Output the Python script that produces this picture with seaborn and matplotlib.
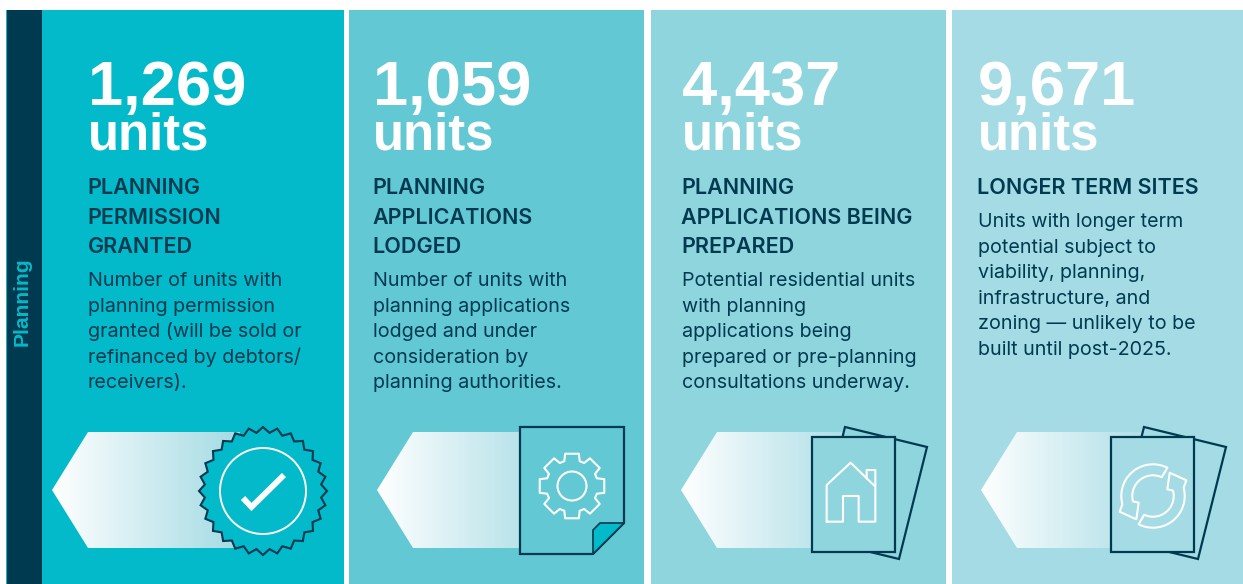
import numpy as np
import matplotlib
matplotlib.use('Agg')
import matplotlib.pyplot as plt
from matplotlib.patches import Polygon, Rectangle, Circle
import seaborn as sns

units = [1269, 1059, 4437, 9671]
headings = [
    ['PLANNING', 'PERMISSION', 'GRANTED'],
    ['PLANNING', 'APPLICATIONS', 'LODGED'],
    ['PLANNING', 'APPLICATIONS BEING', 'PREPARED'],
    ['LONGER TERM SITES'],
]
bodies = [
    ['Number of units with', 'planning permission', 'granted (will be sold or',
     'refinanced by debtors/', 'receivers).'],
    ['Number of units with', 'planning applications', 'lodged and under',
     'consideration by', 'planning authorities.'],
    ['Potential residential units', 'with planning', 'applications being',
     'prepared or pre-planning', 'consultations underway.'],
    ['Units with longer term', 'potential subject to', 'viability, planning,',
     'infrastructure, and', 'zoning \u2014 unlikely to be', 'built until post-2025.'],
]
side_label = 'Planning'

panel_left = [7, 349, 651, 952]
panel_right = [344, 644, 946, 1243]
text_left = [88, 373, 682, 978]
arrow_tip = [52, 377, 681, 981]
arrow_end = [240, 520, 846, 1145]

palette = sns.color_palette(['#02bac9', '#61c8d4', '#8fd5de', '#a4dbe4'])
DARK = '#003a50'
ARROW = '#9dd8e2'
HEAVY = 'Liberation Sans'
LIGHT = 'Inter'

sns.set_theme(style='white')
fig = plt.figure(figsize=(12.43, 5.84), dpi=100)
ax = fig.add_axes([0, 0, 1, 1])
ax.axis('off')


def closed(pts, fc, ec=DARK, lw=1.6, z=5):
    ax.add_patch(Polygon(pts, closed=True, fc=fc, ec=ec, lw=lw, zorder=z, joinstyle='miter'))


def outline(pts, lw=1.5):
    ax.add_patch(Polygon(pts, closed=True, fc='none', ec='white', lw=lw, zorder=7, joinstyle='round'))


def badge(cx, cy, fc):
    ang = np.linspace(0, 2 * np.pi, 57)[:-1] + np.pi / 2
    rad = np.where(np.arange(56) % 2 == 0, 64, 58.5)
    closed(np.c_[cx + rad * np.cos(ang), cy + rad * np.sin(ang)], fc, lw=1.5)
    ax.add_patch(Circle((cx, cy), 43, fc='none', ec='white', lw=1.4, zorder=6))
    ax.plot([cx - 20, cx - 11.5, cx + 21], [cy + 7, cy + 16, cy - 16], color='white',
            lw=4.2, solid_joinstyle='miter', solid_capstyle='butt', zorder=6)


def gear(cx, cy):
    pts = []
    for i in range(8):
        a = np.pi / 4 * i
        for da, r in [(-0.30, 26), (-0.21, 33), (0.21, 33), (0.30, 26)]:
            pts.append((cx + r * np.cos(a + da), cy + r * np.sin(a + da)))
    outline(pts)
    ax.add_patch(Circle((cx, cy), 14.5, fc='none', ec='white', lw=1.5, zorder=7))


def house(x, y):
    xs = [500, 500, 572, 620, 620, 646, 646, 596, 596, 549, 549, 500]
    ys = [365, 255, 188, 235, 210, 210, 365, 365, 288, 288, 365, 365]
    ax.plot(x + np.array(xs) / 3, y + np.array(ys) / 3, color='white', lw=1.5, zorder=7)
    ax.plot([x + 620 / 3, x + 643 / 3], [y + 235 / 3, y + 257 / 3], color='white', lw=1.5, zorder=7)


def cycle(cx, cy):
    for sign in [1, -1]:
        a1 = np.radians(np.linspace(63, 195, 40))
        a2 = np.radians(np.linspace(195, 65, 40))
        dx = np.r_[31.7 * np.cos(a1), -33.3, -16.7, -14.3, 20.7 * np.cos(a2)]
        dy = np.r_[-31.7 * np.sin(a1), 15.7, 23.3, 6.7, -20.7 * np.sin(a2)]
        outline(np.c_[cx + sign * dx, cy + sign * dy])


# panels
for i, col in enumerate(palette):
    ax.add_patch(Rectangle((panel_left[i], 10), panel_right[i] - panel_left[i], 574, fc=col,
                           ec='none', zorder=1))
ax.add_patch(Rectangle((6, 10), 36, 574, fc=palette[0], ec='none', zorder=2))
ax.add_patch(Rectangle((7, 10), 35, 574, fc=DARK, ec='none', zorder=2))
ax.text(22.5, 302, side_label, rotation=90, color=palette[0], fontsize=15.2, fontweight='bold',
        family=HEAVY, ha='center', va='center', zorder=3)

# gradient arrows
cmap = sns.blend_palette(['white', ARROW], as_cmap=True)
for i, col in enumerate(palette):
    tip, end = arrow_tip[i], arrow_end[i]
    im = ax.imshow(np.linspace(0, 1, 256)[None, :], cmap=cmap, extent=[tip, tip + 200, 548, 432],
                   aspect='auto', vmin=0, vmax=1, zorder=3, interpolation='bilinear')
    clip = Polygon([(tip, 490), (tip + 36, 432), (end, 432), (end, 548), (tip + 36, 548)],
                   closed=True, transform=ax.transData)
    im.set_clip_path(clip)

# icons
badge(263, 491, palette[0])

closed([(520, 427), (624, 427), (624, 523), (593, 554), (520, 554)], palette[1])
closed([(593, 554), (593, 530), (600, 523), (624, 523)], palette[0], lw=1.2, z=6)
gear(572, 486)

for i, x0 in [(2, 812), (3, 1111)]:
    dx = x0 - 812
    closed([(845 + dx, 427), (927 + dx, 447), (899 + dx, 559), (817 + dx, 539)], palette[i])
    closed([(x0, 437), (x0 + 83, 437), (x0 + 83, 552), (x0, 552)], palette[i], z=6)
house(660, 400)
cycle(1153, 496)

# text
for i, x in enumerate(text_left):
    ax.text(x, 105, f'{units[i]:,}', color='white', fontsize=45.5, fontweight='bold', family=HEAVY,
            va='baseline', zorder=4)
    ax.text(x, 150, 'units', color='white', fontsize=36.6, fontweight='bold', family=HEAVY,
            va='baseline', zorder=4)
    y = 194
    for line in headings[i]:
        ax.text(x - 0.5, y, line, color=DARK, fontsize=15.5, fontweight='semibold', family=LIGHT,
                va='baseline', zorder=4)
        y += 29.5
    y = y - 29.5 + 33
    for line in bodies[i]:
        ax.text(x, y, line, color=DARK, fontsize=14.2, family=LIGHT, va='baseline', zorder=4)
        y += 25.6

ax.set_xlim(0, 1243)
ax.set_ylim(584, 0)
fig.savefig('out.png', dpi=100)
